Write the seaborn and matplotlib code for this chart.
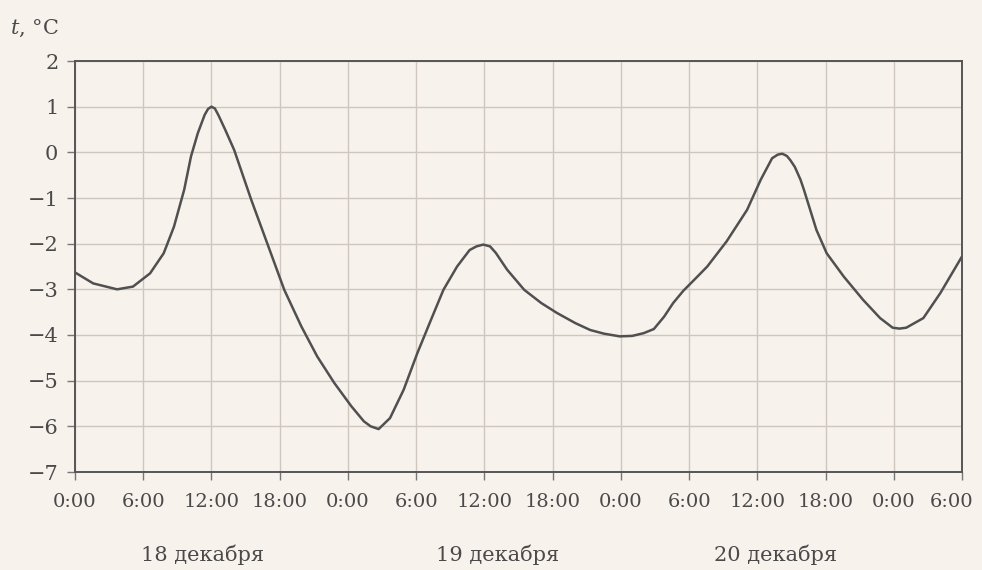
import matplotlib
matplotlib.use("Agg")
import matplotlib.pyplot as plt
import matplotlib.transforms as mtransforms
import seaborn as sns
import pandas as pd

# hours since 0:00, 18 December
hours = [0, 1.6, 3.7, 5.1, 6.6, 7.8, 8.7, 9.6, 10.2, 10.8, 11.4, 11.7, 12.0,
         12.3, 12.6, 13.2, 14.0, 15.5, 16.9, 18.4, 19.9, 21.3, 22.8, 24.3,
         25.4, 26.0, 26.7, 27.7, 28.9, 30.1, 31.3, 32.4, 33.6, 34.7, 35.3,
         35.9, 36.5, 37.0, 38.0, 39.5, 41.0, 42.4, 44.0, 45.3, 46.5, 47.9,
         49.0, 50.0, 50.9, 51.8, 52.6, 53.5, 54.5, 55.6, 57.3, 59.1, 60.3,
         61.3, 61.8, 62.2, 62.6, 62.9, 63.3, 63.8, 64.1, 65.2, 66.1, 67.6,
         69.3, 70.8, 71.9, 72.5, 73.1, 74.6, 76.1, 78.0]
temps = [-2.63, -2.87, -3.0, -2.94, -2.65, -2.21, -1.63, -0.82, -0.09, 0.42,
         0.82, 0.95, 1.0, 0.96, 0.82, 0.5, 0.05, -1.04, -1.99, -3.01, -3.81,
         -4.47, -5.05, -5.56, -5.89, -6.0, -6.06, -5.82, -5.2, -4.4, -3.67,
         -3.01, -2.5, -2.14, -2.06, -2.02, -2.06, -2.2, -2.57, -3.01, -3.3,
         -3.52, -3.74, -3.89, -3.97, -4.03, -4.02, -3.96, -3.87, -3.6, -3.3,
         -3.03, -2.78, -2.5, -1.95, -1.26, -0.6, -0.13, -0.05, -0.03, -0.08,
         -0.17, -0.32, -0.6, -0.82, -1.7, -2.21, -2.72, -3.23, -3.63, -3.84,
         -3.86, -3.84, -3.63, -3.08, -2.28]

x_ticks = list(range(0, 79, 6))
x_tick_labels = ["0:00", "6:00", "12:00", "18:00"] * 3 + ["0:00", "6:00"]
y_ticks = list(range(-7, 3))
y_tick_labels = ["\u2212" + str(-v) if v < 0 else str(v) for v in y_ticks]
day_labels = ["18 декабря", "19 декабря", "20 декабря"]
day_label_x = [11.2, 37.2, 61.6]

bg = "#f8f2ec"
ink = "#4a4a4a"
gridc = "#cfc7bf"

sns.set_theme(style="ticks")
plt.rcParams["font.family"] = ["DejaVu Serif"]
plt.rcParams["mathtext.fontset"] = "dejavuserif"

fig = plt.figure(figsize=(9.82, 5.70), dpi=100, facecolor=bg)
ax = fig.add_axes([75 / 982, 1 - 472 / 570, (962 - 75) / 982, (472 - 61) / 570])
ax.set_facecolor(bg)

df = pd.DataFrame({"h": hours, "t": temps})
sns.lineplot(data=df, x="h", y="t", ax=ax, color="#505050", linewidth=1.8,
             estimator=None, solid_joinstyle="round", solid_capstyle="round")

ax.set_xlim(0, 78)
ax.set_ylim(-7, 2)
ax.set_xticks(x_ticks)
ax.set_xticklabels(x_tick_labels)
ax.set_yticks(y_ticks)
ax.set_yticklabels(y_tick_labels)
ax.set_xlabel("")
ax.set_ylabel("")

ax.grid(True, color=gridc, linewidth=1.0)
ax.set_axisbelow(True)
for s in ax.spines.values():
    s.set_visible(True)
    s.set_color("#555555")
    s.set_linewidth(1.4)

ax.tick_params(axis="both", direction="out", length=6, width=1.0,
               color="#777777", labelsize=14, labelcolor=ink, pad=6)
ax.tick_params(axis="x", pad=9)
ax.tick_params(axis="y", labelsize=15)

# keep the last x label inside the figure
last = ax.get_xticklabels()[-1]
last.set_transform(last.get_transform() +
                   mtransforms.ScaledTranslation(-10 / 100, 0, fig.dpi_scale_trans))

fig.text(10 / 982, 1 - 28 / 570, "$t$, °C", fontsize=15, color=ink,
         va="center", ha="left")

trans = mtransforms.blended_transform_factory(ax.transData, fig.transFigure)
for lbl, xv in zip(day_labels, day_label_x):
    ax.text(xv, 1 - 555 / 570, lbl, transform=trans, ha="center", va="center",
            fontsize=15, color=ink)

fig.savefig("out.png", dpi=100, facecolor=bg)
